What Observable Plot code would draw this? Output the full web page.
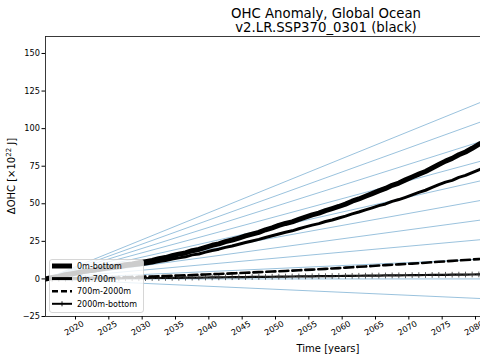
<!DOCTYPE html>
<html><head><meta charset="utf-8">
<script src="https://cdn.jsdelivr.net/npm/d3@7"></script>
<script src="https://cdn.jsdelivr.net/npm/@observablehq/plot@0.6"></script>
<style>
body{margin:0;overflow:hidden;background:#fff;}
#wrap{position:relative;width:480px;height:360px;overflow:hidden;}
#over{position:absolute;left:0;top:0;pointer-events:none;}
</style></head>
<body><div id="wrap"></div>
<script>
// ---- data ----
const startYear = 2015.5;
const years = d3.range(startYear, 2082, 1); // annual means
const ohcTotal = [0,0.9,1.6,2.8,3.5,4.3,5.2,5.8,6.5,7.4,7.9,8.6,9.5,10.0,10.8,11.5,12.3,13.4,14.2,15.4,16.5,17.3,18.8,19.6,21.0,22.4,23.3,24.8,25.9,27.2,28.6,29.8,31.0,32.7,34.0,35.6,36.9,38.0,39.6,41.1,42.6,43.8,45.5,46.8,48.2,49.8,51.7,53.2,55.0,56.8,58.6,60.2,62.3,63.8,65.9,67.8,69.7,71.5,73.8,76.1,78.4,80.2,82.6,84.5,86.9,89.6,91.8];
const ohc0_700 = [0,0.8,1.4,2.5,3.1,3.8,4.6,5.1,5.7,6.4,6.9,7.4,8.2,8.7,9.3,9.9,10.6,11.5,12.2,13.2,14.0,14.7,16.0,16.6,17.8,18.9,19.8,21.0,21.9,23.1,24.2,25.2,26.3,27.6,28.7,29.9,31.1,32.0,33.4,34.6,35.8,36.8,38.2,39.2,40.5,41.8,43.3,44.5,45.9,47.3,48.8,49.9,51.6,52.8,54.3,55.9,57.6,59.0,60.9,62.8,64.4,65.6,67.6,68.9,70.8,72.6,74.2];
const ohc700_2000 = [0,0.1,0.2,0.3,0.4,0.5,0.55,0.6,0.7,0.75,0.8,0.95,1.1,1.2,1.35,1.5,1.65,1.8,1.95,2.1,2.25,2.4,2.6,2.8,2.95,3.1,3.3,3.5,3.7,3.9,4.1,4.3,4.5,4.7,4.9,5.1,5.3,5.55,5.75,6.0,6.2,6.45,6.7,6.95,7.2,7.5,7.8,8.05,8.3,8.6,8.9,9.2,9.45,9.7,9.95,10.2,10.5,10.8,11.1,11.4,11.7,12.0,12.3,12.6,12.9,13.2,13.5];
const ohc2000_bot = [0,0.05,0.1,0.15,0.2,0.2,0.25,0.3,0.3,0.35,0.4,0.4,0.45,0.5,0.5,0.55,0.6,0.6,0.65,0.7,0.75,0.8,0.85,0.9,0.95,1.0,1.05,1.1,1.15,1.2,1.25,1.3,1.35,1.4,1.45,1.5,1.55,1.6,1.65,1.7,1.75,1.8,1.85,1.9,1.95,2.0,2.05,2.1,2.15,2.2,2.25,2.3,2.35,2.4,2.45,2.5,2.55,2.6,2.65,2.7,2.75,2.8,2.85,2.9,2.95,3.0,3.05];
// reference heating rates (x10^22 J per year)
const refRates = [-0.2,0,0.2,0.4,0.6,0.8,1.0,1.2,1.4,1.6,1.8];
const refEndYear = 2090;
const xTicks = [2020,2025,2030,2035,2040,2045,2050,2055,2060,2065,2070,2075,2080];
const yTicks = [-25,0,25,50,75,100,125,150];
const xDomain = [2015.5, 2080.75];
const yDomain = [-25, 161.3];
const seriesNames = ["0m-bottom","0m-700m","700m-2000m","2000m-bottom"];

// ---- tables ----
const mk = arr => years.map((y,i)=>({year:y, value:arr[i]}));
const refData = refRates.flatMap(r => [
  {rate:r, year:startYear, value:0},
  {rate:r, year:refEndYear, value:r*(refEndYear-startYear)}
]);

const chart = Plot.plot({
  width:480, height:360,
  marginLeft:45, marginRight:0, marginTop:36, marginBottom:44,
  x:{domain:xDomain, label:null},
  y:{domain:yDomain, label:null},
  style:{fontFamily:"DejaVu Sans", fontSize:"8.2px", background:"white", color:"black", overflow:"hidden"},
  marks:[
    Plot.line(refData,{x:"year",y:"value",z:"rate",stroke:"#8fbbd9",strokeWidth:0.9,clip:true}),
    Plot.line(mk(ohc2000_bot),{x:"year",y:"value",stroke:"black",strokeWidth:2.2,clip:true}),
    Plot.dot(mk(ohc2000_bot),{x:"year",y:"value",symbol:"plus",r:2,stroke:"#333",strokeWidth:0.8,clip:true}),
    Plot.line(mk(ohc700_2000),{x:"year",y:"value",stroke:"black",strokeWidth:2.6,strokeDasharray:"9,4",clip:true}),
    Plot.line(mk(ohc0_700),{x:"year",y:"value",stroke:"black",strokeWidth:3,clip:true}),
    Plot.line(mk(ohcTotal),{x:"year",y:"value",stroke:"black",strokeWidth:5,clip:true}),
    Plot.ruleX([xDomain[0]],{stroke:"#222",strokeWidth:0.9}),
    Plot.ruleY(yDomain,{stroke:"#222",strokeWidth:0.9}),
    Plot.axisY({ticks:yTicks, tickSize:3.5, tickPadding:2, fontSize:8.2, tickFormat:d=>d<0?"\u2212"+(-d):String(d)}),
    Plot.axisX({ticks:xTicks, tickSize:3.5, tickFormat:()=>""}),
    Plot.text(xTicks,{x:d=>d, text:d=>String(d), frameAnchor:"bottom", dy:14, rotate:-30, fontSize:8.2, textAnchor:"middle"})
  ]
});
const wrap = document.getElementById("wrap");
wrap.appendChild(chart);

// ---- overlay: titles, axis labels, legend ----
const ns = "http://www.w3.org/2000/svg";
const over = document.createElementNS(ns,"svg");
over.setAttribute("id","over"); over.setAttribute("width",480); over.setAttribute("height",360);
over.setAttribute("font-family","DejaVu Sans");
over.innerHTML = `
<text x="326" y="18" text-anchor="middle" font-size="13.3">OHC Anomaly, Global Ocean</text>
<text x="326" y="32" text-anchor="middle" font-size="13.3">v2.LR.SSP370_0301 (black)</text>
<text x="328" y="352" text-anchor="middle" font-size="10">Time [years]</text>
<text transform="translate(15,176) rotate(-90)" text-anchor="middle" font-size="10">ΔOHC [×10<tspan dy="-4" font-size="7">22</tspan><tspan dy="4"> J]</tspan></text>
`;
const lg = document.createElementNS(ns,"g");
lg.innerHTML = `<rect x="49.5" y="259.5" width="94" height="53" rx="2.5" fill="white" fill-opacity="0.8" stroke="#cccccc" stroke-width="0.8"/>`;
const styles = [
  {w:5, dash:null, mark:false},
  {w:3, dash:null, mark:false},
  {w:2.6, dash:"6,3", mark:false},
  {w:2, dash:null, mark:true}
];
seriesNames.forEach((name,i)=>{
  const y = 266 + i*12.6;
  const s = styles[i];
  let h = `<line x1="52" x2="72" y1="${y}" y2="${y}" stroke="black" stroke-width="${s.w}" ${s.dash?`stroke-dasharray="${s.dash}"`:""}/>`;
  if (s.mark) h += `<path d="M62,${y-2.5}V${y+2.5}" stroke="black" stroke-width="0.9"/>`;
  h += `<text x="77" y="${y+2.9}" font-size="8">${name}</text>`;
  lg.innerHTML += h;
});
over.appendChild(lg);
wrap.appendChild(over);
</script>
</body></html>
